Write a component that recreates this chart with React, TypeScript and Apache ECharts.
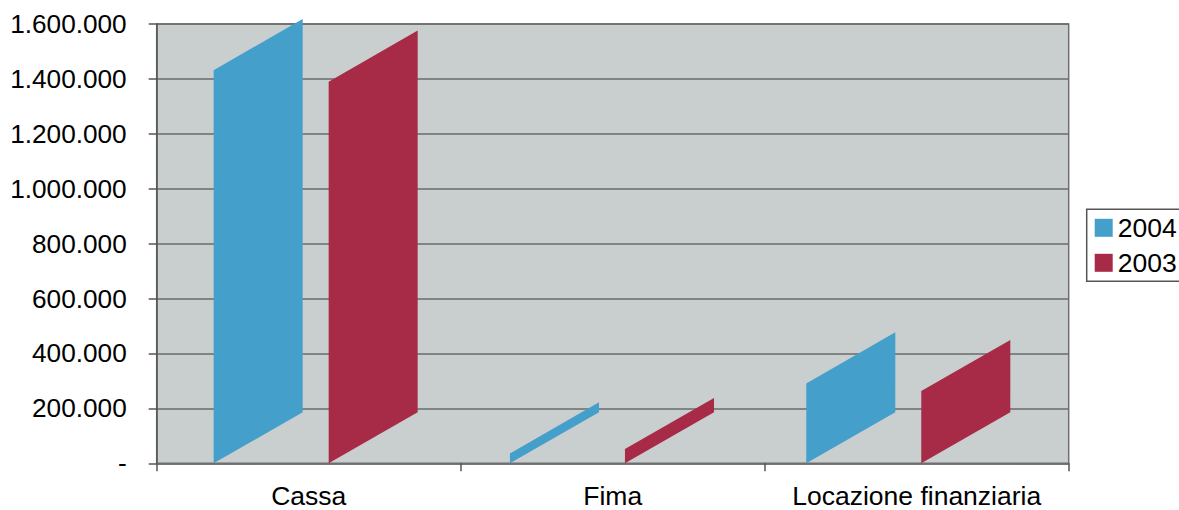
import React, { useEffect, useRef } from "react";
import * as echarts from "echarts";

// Categories and yearly values
const categories = ["Cassa", "Fima", "Locazione finanziaria"];
const seriesNames = ["2004", "2003"];
const values2004 = [1432000, 36000, 291000];
const values2003 = [1390000, 52000, 263000];
const yTicks = { min: 0, max: 1600000, interval: 200000 };

const COLORS = { "2004": "#459fcb", "2003": "#a72a46" };

// Slanted-bar geometry, as fractions of a category band
const PERSPECTIVE = 0.9747;
const BAR_OFFSET: Record<string, number> = { "2004": -0.3, "2003": 0.0783 };
const BAR_WIDTH = 0.2928;
const BAR_DEPTH = 0.168;

const formatThousands = (v: number) =>
  v === 0 ? "-" : String(Math.round(v)).replace(/\B(?=(\d{3})+(?!\d))/g, ".");

function makeSeries(name: string, values: number[]) {
  return {
    type: "custom",
    name,
    clip: false,
    encode: { x: 0, y: 1 },
    itemStyle: { color: COLORS[name] },
    data: values.map((v, i) => [i, v]),
    renderItem: (params: any, api: any) => {
      const i = api.value(0);
      const v = api.value(1);
      const base = api.coord([i, 0]);
      const top = api.coord([i, v]);
      const band = api.size([1, 0])[0];
      const cs = params.coordSys;
      const cx = cs.x + (base[0] - cs.x) * PERSPECTIVE;
      const x0 = cx + band * BAR_OFFSET[name];
      const x1 = x0 + band * BAR_WIDTH;
      const d = band * BAR_DEPTH;
      return {
        type: "polygon",
        shape: {
          points: [
            [x0, base[1]],
            [x0, top[1]],
            [x1, top[1] - d],
            [x1, base[1] - d],
          ],
        },
        style: { fill: COLORS[name] },
      };
    },
  };
}

export default function App() {
  const ref = useRef<HTMLDivElement>(null);
  useEffect(() => {
    if (!ref.current) return;
    const chart = echarts.init(ref.current, null, { renderer: "svg" });
    chart.setOption({
      animation: false,
      backgroundColor: "#ffffff",
      textStyle: { fontFamily: "Liberation Sans, Arial, sans-serif" },
      grid: {
        left: 156.7,
        right: 110.3,
        top: 24,
        bottom: 46.7,
        show: true,
        backgroundColor: "#c9cecf",
        borderColor: "#707070",
        borderWidth: 1.5,
      },
      legend: {
        left: 1086.7,
        top: 209.3,
        orient: "vertical",
        icon: "rect",
        itemWidth: 18,
        itemHeight: 18,
        itemGap: 8,
        padding: [5, 40, 5, 8],
        borderColor: "#555555",
        borderWidth: 1.5,
        backgroundColor: "#ffffff",
        textStyle: { fontSize: 26.5, color: "#000" },
        data: seriesNames.map((n) => ({ name: n, icon: "rect" })),
      },
      xAxis: {
        type: "category",
        data: categories,
        boundaryGap: true,
        axisLine: { show: true, lineStyle: { color: "#707070", width: 1.5 } },
        axisTick: { show: true, length: 8, alignWithLabel: false, lineStyle: { color: "#555", width: 1.5 } },
        axisLabel: { fontSize: 26.5, color: "#000", margin: 19, interval: 0 },
        splitLine: { show: false },
      },
      yAxis: {
        type: "value",
        min: yTicks.min,
        max: yTicks.max,
        interval: yTicks.interval,
        axisLine: { show: true, lineStyle: { color: "#555555", width: 1.5 } },
        axisTick: { show: true, length: 8, lineStyle: { color: "#555", width: 1.5 } },
        axisLabel: { fontSize: 26.2, color: "#000", margin: 30, formatter: formatThousands },
        splitLine: { show: true, lineStyle: { color: "#6a6a6a", width: 1.5 } },
      },
      series: [makeSeries("2004", values2004), makeSeries("2003", values2003)],
    });
    return () => chart.dispose();
  }, []);
  return (
    <div
      ref={ref}
      style={{ position: "fixed", left: 0, top: 0, width: 1179, height: 510 }}
    />
  );
}
